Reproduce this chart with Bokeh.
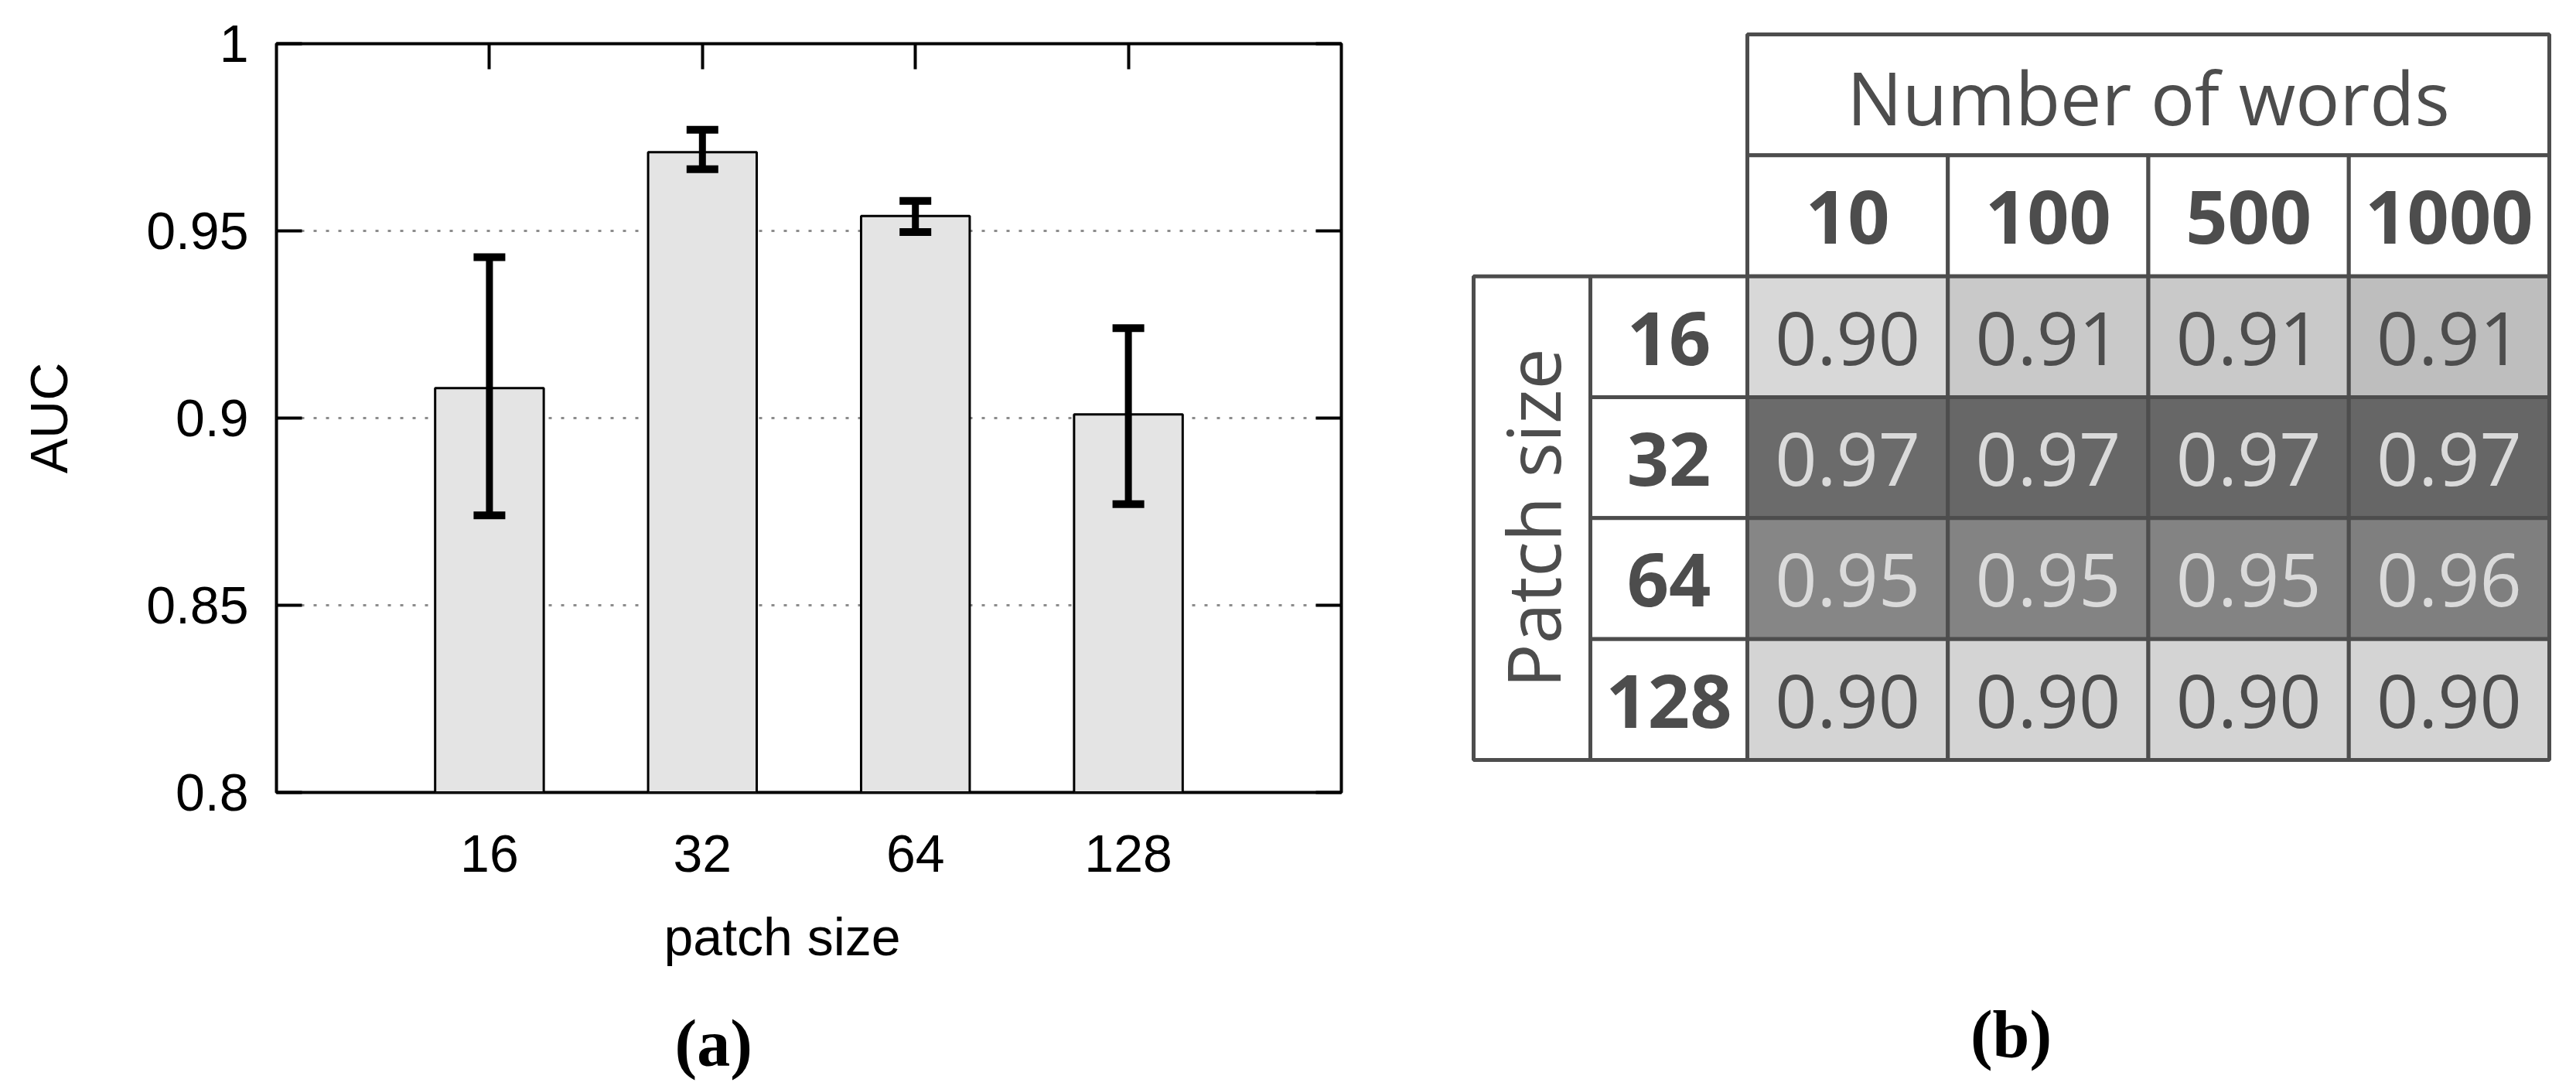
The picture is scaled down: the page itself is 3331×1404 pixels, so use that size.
import numpy as np
from bokeh.plotting import figure
from bokeh.models import (ColumnDataSource, Range1d, LinearAxis, FixedTicker, Whisker,
                          TeeHead, Label, CustomJSTickFormatter, Grid, Title)
from bokeh.layouts import row
from bokeh.core.properties import value
from bokeh.embed import file_html
from bokeh.resources import INLINE

# ---------------- data: panel (a) ----------------
patch_sizes = ["16", "32", "64", "128"]
auc_mean = [0.908, 0.971, 0.954, 0.901]
auc_low = [0.874, 0.9665, 0.9497, 0.877]
auc_high = [0.943, 0.977, 0.958, 0.924]
y_ticks = [0.8, 0.85, 0.9, 0.95, 1.0]
y_tick_labels = ["0.8", "0.85", "0.9", "0.95", "1"]

# ---------------- data: panel (b) ----------------
word_counts = ["10", "100", "500", "1000"]
table_patch_sizes = ["16", "32", "64", "128"]
auc_16 = [0.90, 0.91, 0.91, 0.91]
auc_32 = [0.97, 0.97, 0.97, 0.97]
auc_64 = [0.95, 0.95, 0.95, 0.96]
auc_128 = [0.90, 0.90, 0.90, 0.90]
auc_table = [auc_16, auc_32, auc_64, auc_128]

# ---------------- styles ----------------
DARK = "#4d4d4d"
LIGHT = "#dadada"
cell_fill = [
    ["#d8d8d8", "#c9c9c9", "#c9c9c9", "#bebebe"],
    ["#6b6b6b", "#676767", "#676767", "#666666"],
    ["#868686", "#838383", "#838383", "#7f7f7f"],
    ["#d4d4d4", "#d4d4d4", "#d4d4d4", "#d4d4d4"],
]
row_text_color = [DARK, LIGHT, LIGHT, DARK]

W1, W2, H = 1850, 1481, 1404
FL, FR, FT, FB = 357, 116, 56, 379

# ================= panel (a) =================
n = len(patch_sizes)
xs = list(range(1, n + 1))
x0, x1 = 0, n + 1
y0, y1 = y_ticks[0], y_ticks[-1]

p = figure(width=W1, height=H, output_backend="svg", toolbar_location=None,
           x_range=Range1d(x0, x1), y_range=Range1d(y0, y1),
           x_axis_type=None, y_axis_type=None,
           min_border_left=FL, min_border_right=FR, min_border_top=FT, min_border_bottom=FB)
p.frame_align = False
p.outline_line_color = "black"
p.outline_line_width = 4
p.outline_line_alpha = 1.0
p.background_fill_color = "white"
p.border_fill_color = "white"

yt = FixedTicker(ticks=y_ticks)
xt = FixedTicker(ticks=xs)
fmt_code = ("const i = tvals.findIndex(t => Math.abs(t - tick) < 1e-6); "
            "return i >= 0 ? tlabels[i] : '';")
yfmt = CustomJSTickFormatter(args=dict(tvals=y_ticks, tlabels=y_tick_labels), code=fmt_code)
xfmt = CustomJSTickFormatter(args=dict(tvals=xs, tlabels=patch_sizes), code=fmt_code)


def style_axis(ax):
    ax.axis_line_color = None
    ax.major_tick_in = 33
    ax.major_tick_out = 0
    ax.major_tick_line_width = 4
    ax.major_tick_line_color = "black"
    ax.minor_tick_line_color = None
    ax.major_label_text_font = "Liberation Sans"
    ax.major_label_text_font_size = "68px"
    ax.major_label_text_color = "black"
    ax.axis_label_text_font = "Liberation Sans"
    ax.axis_label_text_font_size = "68px"
    ax.axis_label_text_font_style = "normal"
    ax.axis_label_text_color = "black"


left = LinearAxis(ticker=yt, formatter=yfmt, major_label_standoff=36,
                  axis_label="AUC", axis_label_standoff=85)
right = LinearAxis(ticker=yt, formatter=CustomJSTickFormatter(code="return '';"))
top = LinearAxis(ticker=xt, formatter=CustomJSTickFormatter(code="return '';"))
bottom = LinearAxis(ticker=xt, formatter=xfmt, major_label_standoff=55)
for ax in (left, right, top, bottom):
    style_axis(ax)
bottom.major_tick_line_color = None
p.add_layout(left, "left")
p.add_layout(right, "right")
p.add_layout(top, "above")
p.add_layout(bottom, "below")
p.add_layout(Title(text="patch size", align="left", offset=501, standoff=83,
                   text_font="Liberation Sans", text_font_style="normal",
                   text_font_size="68px", text_color="black"), "below")
p.add_layout(Title(text="(a)", align="left", offset=515, standoff=16,
                   text_font="Liberation Serif", text_font_style="bold",
                   text_font_size="86px", text_color="black"), "below")

p.add_layout(Grid(dimension=1, ticker=yt, grid_line_color="#8c8c8c",
                  grid_line_width=3, grid_line_dash="4 12"))

src = ColumnDataSource(dict(x=xs, top=auc_mean, low=auc_low, high=auc_high))
p.vbar(x="x", top="top", bottom=y0, width=0.51, source=src,
       fill_color="#e4e4e4", line_color="black", line_width=3)
p.add_layout(Whisker(base="x", lower="low", upper="high", source=src,
                     line_color="black", line_width=9, level="overlay",
                     lower_head=TeeHead(size=41, line_color="black", line_width=10),
                     upper_head=TeeHead(size=41, line_color="black", line_width=10)))

# ================= panel (b) =================
COL_W = 259.25
ROW_H = 156.33
TX = 409
TY = 44
RL_W = 203 / COL_W
PS_W = 151 / COL_W
nc = len(word_counts)
nr = len(table_patch_sizes)

p2 = figure(width=W2, height=H, output_backend="svg", toolbar_location=None,
            x_range=Range1d(-TX / COL_W, (W2 - TX) / COL_W),
            y_range=Range1d((H - TY) / ROW_H, -TY / ROW_H),
            x_axis_type=None, y_axis_type=None,
            min_border_left=0, min_border_right=0, min_border_top=0, min_border_bottom=0)
p2.frame_align = False
p2.outline_line_color = None

L, R, T, B, F = [], [], [], [], []
L.append(0); R.append(nc); T.append(0); B.append(1); F.append("white")
for c in range(nc):
    L.append(c); R.append(c + 1); T.append(1); B.append(2); F.append("white")
L.append(-RL_W - PS_W); R.append(-RL_W); T.append(2); B.append(2 + nr); F.append("white")
for r in range(nr):
    L.append(-RL_W); R.append(0); T.append(2 + r); B.append(3 + r); F.append("white")
    for c in range(nc):
        L.append(c); R.append(c + 1); T.append(2 + r); B.append(3 + r); F.append(cell_fill[r][c])
p2.quad(left=L, right=R, top=T, bottom=B, fill_color=F, line_color=DARK, line_width=5)

FS = "95px"
OFF = 2
p2.text(x=[nc / 2], y=[0.5], text=["Number of words"], text_font=value("Open Sans"),
        text_font_size=value(FS), text_color=DARK, text_align="center",
        text_baseline="alphabetic", y_offset=OFF)
p2.text(x=[c + 0.5 for c in range(nc)], y=[1.5] * nc, text=word_counts,
        text_font=value("Open Sans"), text_font_style="bold", text_font_size=value(FS),
        text_color=DARK, text_align="center", text_baseline="alphabetic", y_offset=OFF)
p2.text(x=[-RL_W / 2] * nr, y=[2.5 + r for r in range(nr)], text=table_patch_sizes,
        text_font=value("Open Sans"), text_font_style="bold", text_font_size=value(FS),
        text_color=DARK, text_align="center", text_baseline="alphabetic", y_offset=OFF)
vx, vy, vt, vc = [], [], [], []
for r in range(nr):
    for c in range(nc):
        vx.append(c + 0.5); vy.append(2.5 + r)
        vt.append(f"{auc_table[r][c]:.2f}"); vc.append(row_text_color[r])
p2.text(x=vx, y=vy, text=vt, text_color=vc, text_font=value("Open Sans"),
        text_font_size=value(FS), text_align="center", text_baseline="alphabetic", y_offset=OFF)
p2.text(x=[-RL_W - PS_W / 2], y=[2 + nr / 2], text=["Patch size"], angle=np.pi / 2,
        text_font=value("Open Sans"), text_font_size=value(FS), text_color=DARK,
        text_align="center", text_baseline="alphabetic", x_offset=0)

p2.add_layout(Label(x=(750 - TX) / COL_W, y=(1336 - TY) / ROW_H, text="(b)",
                    text_align="center", text_baseline="alphabetic",
                    text_font="Liberation Serif", text_font_style="bold",
                    text_font_size="86px", text_color="black"))

layout = row(p, p2)
open("out.html", "w").write(file_html(layout, INLINE))
